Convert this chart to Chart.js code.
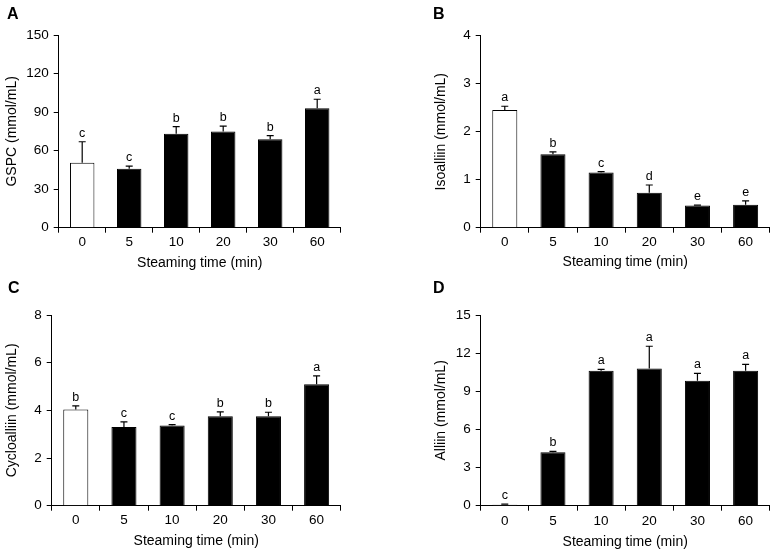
<!DOCTYPE html>
<html>
<head>
<meta charset="utf-8">
<script src="https://cdn.jsdelivr.net/npm/chart.js@4"></script>
<style>
  html, body { margin: 0; padding: 0; background: #fff; }
  #wrap { position: relative; width: 776px; height: 555px; overflow: hidden; }
  canvas { position: absolute; }
  .plab { position: absolute; font: bold 16px "Liberation Sans", Arial, sans-serif; color: #000; line-height: 16px; }
</style>
</head>
<body>
<div id="wrap">
  <canvas id="cA" style="left:0;top:0"></canvas>
  <canvas id="cB" style="left:388px;top:0"></canvas>
  <canvas id="cC" style="left:0;top:277px"></canvas>
  <canvas id="cD" style="left:388px;top:277px"></canvas>
  <div class="plab" style="left:7px;top:6px">A</div>
  <div class="plab" style="left:433px;top:6px">B</div>
  <div class="plab" style="left:8px;top:280px">C</div>
  <div class="plab" style="left:433px;top:280px">D</div>
</div>
<script>
// ---- data ----
const categories = ['0', '5', '10', '20', '30', '60'];
const xTitle = 'Steaming time (min)';

const gspc = [50.6, 45.9, 73.2, 74.8, 68.8, 93.0];
const gspcErr = [16.3, 2.1, 5.5, 4.2, 2.9, 7.0];
const gspcLetters = ['c', 'c', 'b', 'b', 'b', 'a'];
const gspcTicks = [0, 30, 60, 90, 120, 150];

const isoalliin = [2.45, 1.53, 1.15, 0.73, 0.46, 0.48];
const isoalliinErr = [0.08, 0.05, 0.02, 0.16, 0.01, 0.08];
const isoalliinLetters = ['a', 'b', 'c', 'd', 'e', 'e'];
const isoalliinTicks = [0, 1, 2, 3, 4];

const cycloalliin = [4.04, 3.30, 3.36, 3.75, 3.75, 5.10];
const cycloalliinErr = [0.15, 0.22, 0.04, 0.19, 0.17, 0.35];
const cycloalliinLetters = ['b', 'c', 'c', 'b', 'b', 'a'];
const cycloalliinTicks = [0, 2, 4, 6, 8];

const alliin = [0.08, 4.20, 10.62, 10.80, 9.83, 10.62];
const alliinErr = [0.05, 0.07, 0.10, 1.74, 0.58, 0.50];
const alliinLetters = ['c', 'b', 'a', 'a', 'a', 'a'];
const alliinTicks = [0, 3, 6, 9, 12, 15];

const FONT = '"Liberation Sans", Arial, Helvetica, sans-serif';

const errPlugin = {
  id: 'errLetters',
  afterDatasetsDraw(chart, args, opts) {
    const ctx = chart.ctx;
    const meta = chart.getDatasetMeta(0);
    const ys = chart.scales.y;
    ctx.save();
    meta.data.forEach((bar, i) => {
      const v = opts.values[i];
      const e = opts.errors[i];
      const x = bar.x;
      const yTop = ys.getPixelForValue(v);
      const yErr = ys.getPixelForValue(v + e);
      ctx.strokeStyle = '#000';
      ctx.lineWidth = 1.2;
      ctx.beginPath();
      ctx.moveTo(x, yTop);
      ctx.lineTo(x, yErr);
      ctx.moveTo(x - 3.5, yErr);
      ctx.lineTo(x + 3.5, yErr);
      ctx.stroke();
      ctx.fillStyle = '#000';
      ctx.font = '12.5px ' + FONT;
      ctx.textAlign = 'center';
      ctx.textBaseline = 'alphabetic';
      ctx.fillText(opts.letters[i], x, yErr - 5);
    });
    ctx.restore();
  }
};

function makeChart(id, w, h, area, values, errors, letters, ticks, yLabel, yTitlePad, xTickPad, xTitlePad) {
  const cv = document.getElementById(id);
  cv.width = w; cv.height = h;
  cv.style.width = w + 'px'; cv.style.height = h + 'px';
  const yMax = ticks[ticks.length - 1];
  return new Chart(cv, {
    type: 'bar',
    data: {
      labels: categories,
      datasets: [{
        data: values,
        backgroundColor: values.map((v, i) => i === 0 ? '#ffffff' : '#000000'),
        borderColor: '#000',
        borderWidth: 1,
        barPercentage: 0.52,
        categoryPercentage: 1.0
      }]
    },
    options: {
      responsive: false,
      animation: false,
      devicePixelRatio: 1,
      layout: { padding: { left: 0, top: area.top, right: w - area.right, bottom: 0 } },
      plugins: {
        legend: { display: false },
        tooltip: { enabled: false },
        errLetters: { values: values, errors: errors, letters: letters }
      },
      scales: {
        x: {
          type: 'category',
          offset: true,
          grid: { display: true, drawOnChartArea: false, drawTicks: true, tickLength: 5, offset: true, color: '#000', lineWidth: 1 },
          border: { display: true, color: '#000', width: 1 },
          ticks: { color: '#000', font: { family: FONT, size: 13.5 }, padding: xTickPad, maxRotation: 0 },
          title: { display: true, text: xTitle, color: '#000', font: { family: FONT, size: 14 }, padding: { top: 0, bottom: xTitlePad } },
          afterFit(s) { s.height = h - area.bottom; }
        },
        y: {
          min: 0, max: yMax,
          afterBuildTicks(s) { s.ticks = ticks.map(v => ({ value: v })); },
          grid: { display: true, drawOnChartArea: false, drawTicks: true, tickLength: 5, color: '#000', lineWidth: 1 },
          border: { display: true, color: '#000', width: 1 },
          ticks: { color: '#000', font: { family: FONT, size: 13.5 }, padding: 5 },
          title: { display: true, text: yLabel, color: '#000', font: { family: FONT, size: 14 }, padding: { top: yTitlePad, bottom: 0 } },
          afterFit(s) { s.width = area.left; }
        }
      }
    },
    plugins: [errPlugin]
  });
}

makeChart('cA', 388, 277, { left: 58.7, right: 340.7, top: 35, bottom: 227.7 },
  gspc, gspcErr, gspcLetters, gspcTicks, 'GSPC (mmol/mL)', 3.3, 1, 5.3);
makeChart('cB', 388, 277, { left: 92.7, right: 381.7, top: 35.7, bottom: 227.7 },
  isoalliin, isoalliinErr, isoalliinLetters, isoalliinTicks, 'Isoalliin (mmol/mL)', 44.6, 1, 6);
makeChart('cC', 388, 278, { left: 51.7, right: 340.7, top: 38, bottom: 228.7 },
  cycloalliin, cycloalliinErr, cycloalliinLetters, cycloalliinTicks, 'Cycloalliin (mmol/mL)', 4.1, 1.7, 5.6);
makeChart('cD', 388, 278, { left: 92.7, right: 381.7, top: 38, bottom: 228.7 },
  alliin, alliinErr, alliinLetters, alliinTicks, 'Alliin (mmol/mL)', 44.6, 2, 4.8);
</script>
</body>
</html>
